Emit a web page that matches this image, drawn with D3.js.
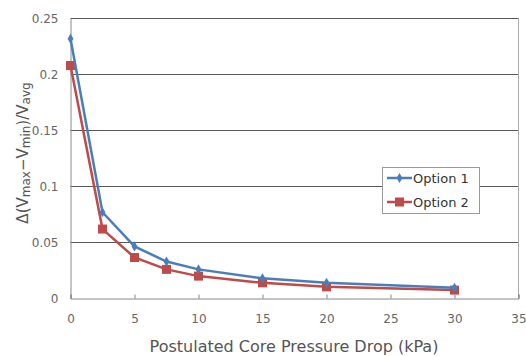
<!DOCTYPE html>
<html>
<head>
<meta charset="utf-8">
<script src="https://cdn.jsdelivr.net/npm/d3@7"></script>
<style>
  body { margin: 0; background: #fff; }
  text { font-family: "DejaVu Sans", sans-serif; fill: #555; }
</style>
</head>
<body>
<svg width="526" height="356"></svg>
<script>
// data
var pressureDrop = [0, 2.5, 5, 7.5, 10, 15, 20, 30];
var option1 = [0.232, 0.077, 0.0465, 0.033, 0.026, 0.018, 0.014, 0.0095];
var option2 = [0.208, 0.062, 0.0366, 0.026, 0.020, 0.014, 0.0104, 0.0075];
var seriesNames = ['Option 1', 'Option 2'];
var xTicks = [0, 5, 10, 15, 20, 25, 30, 35];
var yTicks = [0, 0.05, 0.1, 0.15, 0.2, 0.25];

var svg = d3.select('svg');

var x = d3.scaleLinear().domain([0, 35]).range([70.5, 518.5]);
var y = d3.scaleLinear().domain([0, 0.25]).range([298.5, 18.5]);

// gridlines
svg.append('g').selectAll('line')
  .data(yTicks.filter(function (d) { return d > 0; }))
  .enter().append('line')
    .attr('x1', x(0)).attr('x2', x(35))
    .attr('y1', function (d) { return y(d); })
    .attr('y2', function (d) { return y(d); })
    .style('stroke', '#555').style('stroke-width', 1);

// right border
svg.append('line')
  .attr('x1', x(35)).attr('x2', x(35))
  .attr('y1', y(0.25)).attr('y2', y(0))
  .style('stroke', '#aaa');

// axes
var xAxis = svg.append('g')
  .attr('transform', 'translate(0,' + y(0) + ')')
  .call(d3.axisBottom(x).tickValues(xTicks).tickSize(-4).tickPadding(16)
    .tickFormat(d3.format('d')));
var yAxis = svg.append('g')
  .attr('transform', 'translate(' + x(0) + ',0)')
  .call(d3.axisLeft(y).tickValues(yTicks).tickSize(0).tickPadding(12)
    .tickFormat(function (d) { return d === 0 ? '0' : String(+d.toFixed(2)); }));

[xAxis, yAxis].forEach(function (a) {
  a.select('.domain').style('stroke', '#888');
  a.selectAll('.tick line').style('stroke', '#888');
  a.selectAll('text').style('font-size', '12px').style('fill', '#666')
    .style('font-family', '"DejaVu Sans", sans-serif');
});

// axis titles
svg.append('text')
  .attr('x', 294).attr('y', 352)
  .attr('text-anchor', 'middle')
  .style('font-size', '16px')
  .text('Postulated Core Pressure Drop (kPa)');

var yt = svg.append('text')
  .attr('transform', 'translate(28,153) rotate(-90)')
  .attr('text-anchor', 'middle')
  .style('font-size', '15px');
yt.append('tspan').text('\u0394(V');
yt.append('tspan').attr('baseline-shift', '-2').style('font-size', '12px').text('max');
yt.append('tspan').text('\u2212V');
yt.append('tspan').attr('baseline-shift', '-2').style('font-size', '12px').text('min');
yt.append('tspan').text(')/V');
yt.append('tspan').attr('baseline-shift', '-2').style('font-size', '12px').text('avg');

var line = d3.line()
  .x(function (d) { return x(d[0]); })
  .y(function (d) { return y(d[1]); });

var colors = ['#4a7ebb', '#be4b48'];
var seriesData = [option1, option2].map(function (vals) {
  return pressureDrop.map(function (p, i) { return [p, vals[i]]; });
});

// draw option 2 first so option 1 sits on top like in the picture
[1, 0].forEach(function (s) {
  var g = svg.append('g');
  g.append('path')
    .datum(seriesData[s])
    .attr('d', line)
    .style('fill', 'none')
    .style('stroke', colors[s])
    .style('stroke-width', 2.5);
  if (s === 0) {
    g.selectAll('path.m').data(seriesData[s]).enter().append('path')
      .attr('class', 'm')
      .attr('d', d3.symbol(d3.symbolDiamond, 30))
      .attr('transform', function (d) { return 'translate(' + x(d[0]) + ',' + y(d[1]) + ')'; })
      .style('fill', colors[s]);
  } else {
    g.selectAll('rect').data(seriesData[s]).enter().append('rect')
      .attr('x', function (d) { return x(d[0]) - 4.5; })
      .attr('y', function (d) { return y(d[1]) - 4.5; })
      .attr('width', 9).attr('height', 9)
      .style('fill', colors[s]);
  }
});

// legend
var lg = svg.append('g').attr('transform', 'translate(382,167)');
lg.append('rect')
  .attr('x', 0.5).attr('y', 0.5).attr('width', 97).attr('height', 46)
  .style('fill', '#fff').style('stroke', '#999');
seriesNames.forEach(function (name, i) {
  var yy = 11 + i * 24;
  lg.append('line')
    .attr('x1', 5).attr('x2', 30).attr('y1', yy).attr('y2', yy)
    .style('stroke', colors[i]).style('stroke-width', 2.5);
  if (i === 0) {
    lg.append('path')
      .attr('d', d3.symbol(d3.symbolDiamond, 30))
      .attr('transform', 'translate(17.5,' + yy + ')')
      .style('fill', colors[i]);
  } else {
    lg.append('rect')
      .attr('x', 13).attr('y', yy - 4.5).attr('width', 9).attr('height', 9)
      .style('fill', colors[i]);
  }
  lg.append('text')
    .attr('x', 31).attr('y', yy + 5)
    .style('font-size', '13px').style('fill', '#333')
    .text(name);
});
</script>
</body>
</html>
